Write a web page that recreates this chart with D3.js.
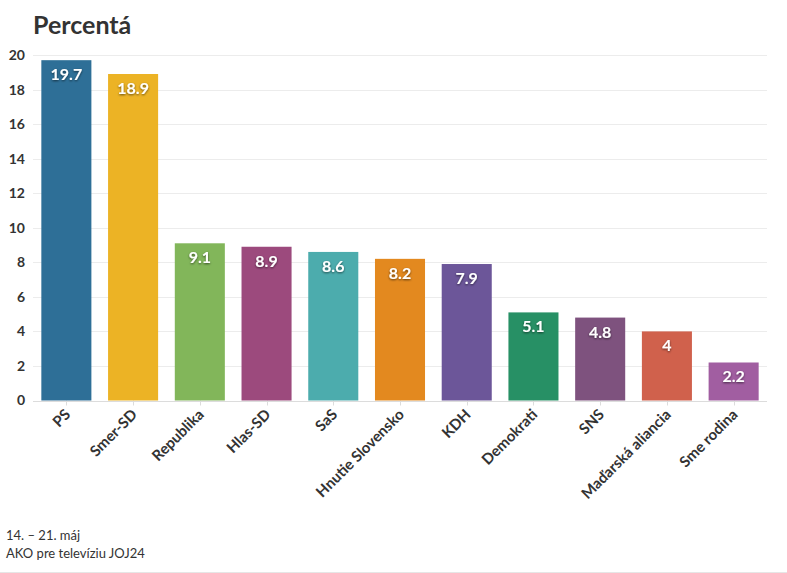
<!DOCTYPE html>
<html>
<head>
<meta charset="utf-8">
<script src="https://cdn.jsdelivr.net/npm/d3@7"></script>
<style>
  body { margin: 0; background: #fff; font-family: Lato, 'Noto Sans', sans-serif; }
</style>
</head>
<body>
<svg width="787" height="573"></svg>
<script>
const parties = ['PS', 'Smer-SD', 'Republika', 'Hlas-SD', 'SaS', 'Hnutie Slovensko', 'KDH', 'Demokrati', 'SNS', 'Maďarská aliancia', 'Sme rodina']
const values = [19.7, 18.9, 9.1, 8.9, 8.6, 8.2, 7.9, 5.1, 4.8, 4, 2.2]
const colors = ['#2e6f97', '#ecb325', '#82b65a', '#9c4a7d', '#4cacad', '#e3891f', '#6c5699', '#279065', '#7e527e', '#d0614c', '#a15ea1']
const yTicks = [0, 2, 4, 6, 8, 10, 12, 14, 16, 18, 20]

const svg = d3.select('svg')
const margin = { top: 55, right: 20, bottom: 172, left: 33 }
const width = +svg.attr('width')
const height = +svg.attr('height')

const x = d3.scaleBand()
  .domain(parties)
  .range([margin.left, width - margin.right])
  .paddingInner(0.25)
  .paddingOuter(0.125)

const y = d3.scaleLinear()
  .domain([0, 20])
  .range([height - margin.bottom - 0.5, margin.top])

svg.append('text')
  .attr('x', 33)
  .attr('y', 34)
  .attr('font-size', 25)
  .attr('font-weight', 'bold')
  .attr('fill', '#333')
  .text('Percentá')

// grid
svg.append('g')
  .selectAll('line')
  .data(yTicks)
  .enter().append('line')
  .attr('x1', margin.left)
  .attr('x2', width - margin.right)
  .attr('y1', d => Math.round(y(d)) + 0.5)
  .attr('y2', d => Math.round(y(d)) + 0.5)
  .attr('stroke', d => d === 0 ? '#dcdcdc' : '#ececec')

const yAxis = svg.append('g')
  .attr('transform', `translate(${margin.left},0)`)
  .call(d3.axisLeft(y).tickValues(yTicks).tickSize(0).tickPadding(10))
yAxis.select('.domain').remove()
yAxis.selectAll('text')
  .attr('font-family', 'Lato, sans-serif')
  .attr('font-size', 14)
  .attr('font-weight', 'bold')
  .attr('fill', '#333')
  .attr('x', -8)
  .attr('text-anchor', 'end')

// small ticks under baseline
svg.append('g')
  .selectAll('line')
  .data(parties)
  .enter().append('line')
  .attr('x1', d => Math.round(x(d) + x.bandwidth() / 2) + 0.5)
  .attr('x2', d => Math.round(x(d) + x.bandwidth() / 2) + 0.5)
  .attr('y1', y(0))
  .attr('y2', y(0) + 5)
  .attr('stroke', '#dcdcdc')

svg.append('g')
  .selectAll('rect')
  .data(parties)
  .enter().append('rect')
  .attr('x', d => x(d))
  .attr('width', x.bandwidth())
  .attr('y', (d, i) => y(values[i]))
  .attr('height', (d, i) => y(0) - y(values[i]))
  .attr('fill', (d, i) => colors[i])

const defs = svg.append('defs')
const f = defs.append('filter').attr('id', 'shadow').attr('x', '-20%').attr('y', '-20%').attr('width', '140%').attr('height', '140%')
f.append('feDropShadow').attr('dx', 0).attr('dy', 1).attr('stdDeviation', 1).attr('flood-color', '#000').attr('flood-opacity', 0.6)

svg.append('g')
  .selectAll('text')
  .data(parties)
  .enter().append('text')
  .attr('x', d => x(d) + x.bandwidth() / 2)
  .attr('y', (d, i) => y(values[i]) + 20)
  .attr('text-anchor', 'middle')
  .attr('font-size', 16)
  .attr('font-weight', 'bold')
  .attr('fill', '#fff')
  .attr('filter', 'url(#shadow)')
  .text((d, i) => values[i])

svg.append('g')
  .selectAll('text')
  .data(parties)
  .enter().append('text')
  .attr('transform', d => `translate(${x(d) + x.bandwidth() / 2 + 5},${y(0) + 15}) rotate(-45)`)
  .attr('text-anchor', 'end')
  .attr('font-size', 15)
  .attr('font-weight', 'bold')
  .attr('fill', '#333')
  .text(d => d)

svg.append('text')
  .attr('x', 6)
  .attr('y', 540)
  .attr('font-size', 13)
  .attr('fill', '#333')
  .text('14. – 21. máj')

svg.append('text')
  .attr('x', 6)
  .attr('y', 558)
  .attr('font-size', 13)
  .attr('fill', '#333')
  .text('AKO pre televíziu JOJ24')

svg.append('line')
  .attr('x1', 0)
  .attr('x2', width)
  .attr('y1', 572.5)
  .attr('y2', 572.5)
  .attr('stroke', '#e6e6e6')
</script>
</body>
</html>
